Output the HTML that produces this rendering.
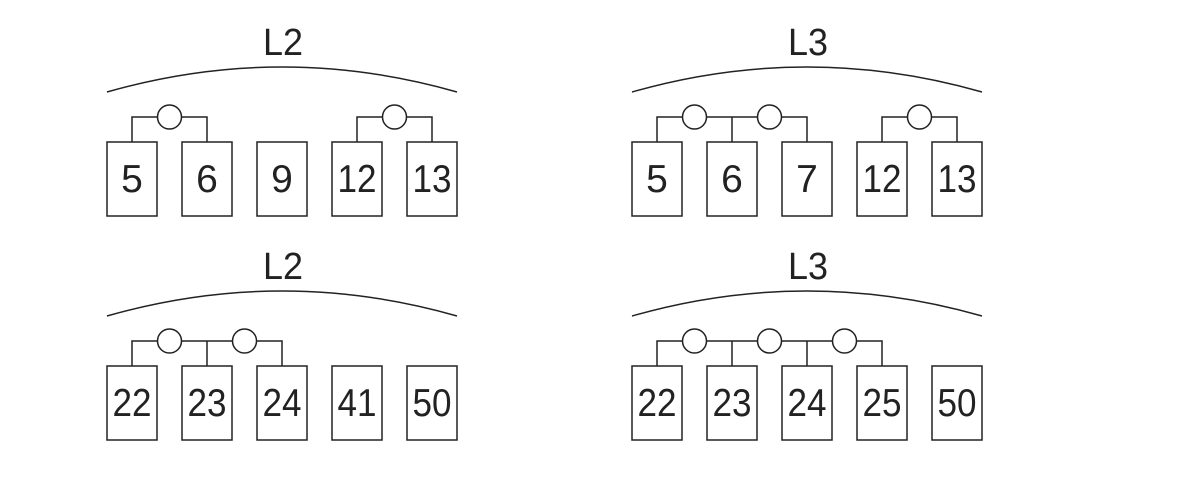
<!DOCTYPE html>
<html><head><style>html,body{margin:0;padding:0;background:#fff}svg{display:block}</style></head>
<body>
<svg width="1200" height="480" viewBox="0 0 1200 480" xmlns="http://www.w3.org/2000/svg">
<defs><style>
.b{fill:#fff;stroke:#222;stroke-width:1.5}
.l{fill:none;stroke:#222;stroke-width:1.5}
.t{font-family:"Liberation Sans",sans-serif;font-size:39px;fill:#222;text-anchor:middle}
.h{font-family:"Liberation Sans",sans-serif;font-size:38px;fill:#222;text-anchor:middle}
</style></defs>

<g>
<text class="h" x="283" y="55" textLength="40" lengthAdjust="spacingAndGlyphs">L2</text>
<path class="l" d="M107 92 Q282 42 457 92"/>
<path class="l" d="M132 142 V117 H207 V142 M357 142 V117 H432 V142"/>
<circle class="b" cx="169.5" cy="117" r="12"/>
<circle class="b" cx="394.5" cy="117" r="12"/>
<rect class="b" x="107" y="142" width="50" height="74"/>
<rect class="b" x="182" y="142" width="50" height="74"/>
<rect class="b" x="257" y="142" width="50" height="74"/>
<rect class="b" x="332" y="142" width="50" height="74"/>
<rect class="b" x="407" y="142" width="50" height="74"/>
<text class="t" x="132" y="192">5</text>
<text class="t" x="207" y="192">6</text>
<text class="t" x="282" y="192">9</text>
<text class="t" x="357" y="192" textLength="39" lengthAdjust="spacingAndGlyphs">12</text>
<text class="t" x="432" y="192" textLength="39" lengthAdjust="spacingAndGlyphs">13</text>
</g>

<g>
<text class="h" x="808" y="55" textLength="40" lengthAdjust="spacingAndGlyphs">L3</text>
<path class="l" d="M632 92 Q807 42 982 92"/>
<path class="l" d="M657 142 V117 H807 V142 M732 142 V117 M882 142 V117 H957 V142"/>
<circle class="b" cx="694.5" cy="117" r="12"/>
<circle class="b" cx="769.5" cy="117" r="12"/>
<circle class="b" cx="919.5" cy="117" r="12"/>
<rect class="b" x="632" y="142" width="50" height="74"/>
<rect class="b" x="707" y="142" width="50" height="74"/>
<rect class="b" x="782" y="142" width="50" height="74"/>
<rect class="b" x="857" y="142" width="50" height="74"/>
<rect class="b" x="932" y="142" width="50" height="74"/>
<text class="t" x="657" y="192">5</text>
<text class="t" x="732" y="192">6</text>
<text class="t" x="807" y="192">7</text>
<text class="t" x="882" y="192" textLength="39" lengthAdjust="spacingAndGlyphs">12</text>
<text class="t" x="957" y="192" textLength="39" lengthAdjust="spacingAndGlyphs">13</text>
</g>

<g transform="translate(0,224)">
<text class="h" x="283" y="55" textLength="40" lengthAdjust="spacingAndGlyphs">L2</text>
<path class="l" d="M107 92 Q282 42 457 92"/>
<path class="l" d="M132 142 V117 H282 V142 M207 142 V117"/>
<circle class="b" cx="169.5" cy="117" r="12"/>
<circle class="b" cx="244.5" cy="117" r="12"/>
<rect class="b" x="107" y="142" width="50" height="74"/>
<rect class="b" x="182" y="142" width="50" height="74"/>
<rect class="b" x="257" y="142" width="50" height="74"/>
<rect class="b" x="332" y="142" width="50" height="74"/>
<rect class="b" x="407" y="142" width="50" height="74"/>
<text class="t" x="132" y="192" textLength="39" lengthAdjust="spacingAndGlyphs">22</text>
<text class="t" x="207" y="192" textLength="39" lengthAdjust="spacingAndGlyphs">23</text>
<text class="t" x="282" y="192" textLength="39" lengthAdjust="spacingAndGlyphs">24</text>
<text class="t" x="357" y="192" textLength="39" lengthAdjust="spacingAndGlyphs">41</text>
<text class="t" x="432" y="192" textLength="39" lengthAdjust="spacingAndGlyphs">50</text>
</g>

<g transform="translate(0,224)">
<text class="h" x="808" y="55" textLength="40" lengthAdjust="spacingAndGlyphs">L3</text>
<path class="l" d="M632 92 Q807 42 982 92"/>
<path class="l" d="M657 142 V117 H882 V142 M732 142 V117 M807 142 V117"/>
<circle class="b" cx="694.5" cy="117" r="12"/>
<circle class="b" cx="769.5" cy="117" r="12"/>
<circle class="b" cx="844.5" cy="117" r="12"/>
<rect class="b" x="632" y="142" width="50" height="74"/>
<rect class="b" x="707" y="142" width="50" height="74"/>
<rect class="b" x="782" y="142" width="50" height="74"/>
<rect class="b" x="857" y="142" width="50" height="74"/>
<rect class="b" x="932" y="142" width="50" height="74"/>
<text class="t" x="657" y="192" textLength="39" lengthAdjust="spacingAndGlyphs">22</text>
<text class="t" x="732" y="192" textLength="39" lengthAdjust="spacingAndGlyphs">23</text>
<text class="t" x="807" y="192" textLength="39" lengthAdjust="spacingAndGlyphs">24</text>
<text class="t" x="882" y="192" textLength="39" lengthAdjust="spacingAndGlyphs">25</text>
<text class="t" x="957" y="192" textLength="39" lengthAdjust="spacingAndGlyphs">50</text>
</g>
</svg>
</body></html>
